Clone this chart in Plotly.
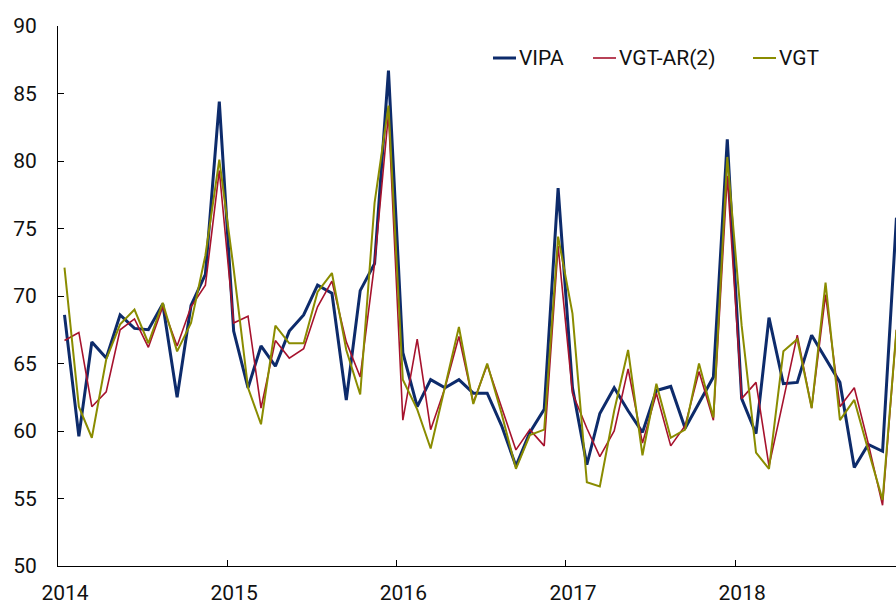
import pandas as pd
import plotly.graph_objects as go

# monthly observations, Jan 2014 - Dec 2018
months = pd.date_range("2014-01-01", periods=60, freq="MS") + pd.Timedelta(days=14)

vipa = [68.6, 59.6, 66.6, 65.4, 68.6, 67.6, 67.5, 69.4, 62.5, 69.3, 71.6, 84.4,
        67.4, 63.2, 66.3, 64.8, 67.4, 68.6, 70.8, 70.2, 62.3, 70.4, 72.4, 86.7,
        65.8, 61.8, 63.8, 63.2, 63.8, 62.8, 62.8, 60.4, 57.4, 59.9, 61.6, 78.0,
        63.2, 57.5, 61.3, 63.2, 61.5, 59.9, 63.0, 63.3, 60.2, 62.1, 64.0, 81.6,
        62.4, 59.8, 68.4, 63.5, 63.6, 67.1, 65.4, 63.6, 57.3, 59.0, 58.5, 75.8]

vgt_ar2 = [66.7, 67.3, 61.8, 62.9, 67.5, 68.3, 66.2, 69.2, 66.3, 69.2, 70.8, 79.3,
           68.0, 68.5, 61.7, 66.7, 65.4, 66.1, 69.2, 71.1, 66.6, 64.0, 72.4, 83.5,
           60.8, 66.8, 60.1, 63.2, 67.0, 62.1, 64.9, 61.7, 58.6, 60.1, 58.9, 73.7,
           62.8, 60.2, 58.1, 60.0, 64.6, 59.1, 62.8, 58.9, 60.4, 64.4, 60.8, 78.9,
           62.4, 63.6, 57.4, 62.3, 67.1, 61.7, 70.1, 61.8, 63.2, 59.1, 54.5, 67.5]

vgt = [72.1, 61.8, 59.5, 65.3, 67.9, 69.0, 66.5, 69.5, 65.9, 68.0, 73.0, 80.1,
       72.0, 63.2, 60.5, 67.8, 66.5, 66.5, 70.3, 71.7, 66.0, 62.7, 76.9, 84.1,
       63.8, 61.6, 58.7, 63.3, 67.7, 62.0, 65.0, 61.3, 57.2, 59.7, 60.1, 74.4,
       68.7, 56.2, 55.9, 61.5, 66.0, 58.2, 63.5, 59.5, 60.1, 65.0, 61.0, 80.3,
       67.8, 58.4, 57.2, 65.9, 66.8, 61.7, 71.0, 60.8, 62.3, 58.6, 54.9, 67.5]

series_names = ["VIPA", "VGT-AR(2)", "VGT"]
series_colors = ["#0d2b6b", "#a6122d", "#8a8c00"]
series_widths = [3, 1.6, 2]
year_ticks = ["2014", "2015", "2016", "2017", "2018"]

W, H = 896, 604
L, R, T, B = 58, 0, 26, 38

fig = go.Figure()
for name, vals, color, width in zip(series_names, [vipa, vgt_ar2, vgt], series_colors, series_widths):
    fig.add_trace(go.Scatter(x=months, y=vals, mode="lines", name=name,
                             line=dict(color=color, width=width), showlegend=False))

# hand-made legend so the short line samples match the original
def px_x(p):
    return (p - L) / (W - L - R)

def px_y(p):
    return (H - B - p) / (H - T - B)

legend_x = [493, 593, 753]
shapes = []
annotations = []
for name, color, width, x0 in zip(series_names, series_colors, series_widths, legend_x):
    shapes.append(dict(type="line", xref="paper", yref="paper",
                       x0=px_x(x0), x1=px_x(x0 + 23), y0=px_y(58), y1=px_y(58),
                       line=dict(color=color, width=width)))
    annotations.append(dict(x=px_x(x0 + 24), y=px_y(58), xref="paper", yref="paper",
                            text=name, showarrow=False, xanchor="left", yanchor="middle",
                            font=dict(size=21, color="#111111", family="Roboto")))

fig.update_layout(
    width=W, height=H,
    margin=dict(l=L, r=R, t=T, b=B),
    plot_bgcolor="white", paper_bgcolor="white",
    font=dict(family="Roboto", size=21, color="#111111"),
    shapes=shapes,
    annotations=annotations,
    xaxis=dict(range=["2014-01-01", "2018-12-14"],
               tickvals=[f"{y}-01-01" for y in year_ticks], ticktext=year_ticks,
               ticks="inside", ticklen=6, tickcolor="black",
               showline=True, linecolor="black", linewidth=1,
               showgrid=False, zeroline=False,
               ticklabelshift=7, ticklabelstandoff=8),
    yaxis=dict(range=[50, 90], tickvals=[50, 55, 60, 65, 70, 75, 80, 85, 90],
               ticks="inside", ticklen=6, tickcolor="black",
               showline=True, linecolor="black", linewidth=1,
               showgrid=False, zeroline=False, ticklabelstandoff=16),
)

# drop the default page margin so the figure fills the window exactly
fig.write_html("out.html", config={"displayModeBar": False},
               post_script="document.body.style.margin='0';document.body.style.overflow='hidden';")
